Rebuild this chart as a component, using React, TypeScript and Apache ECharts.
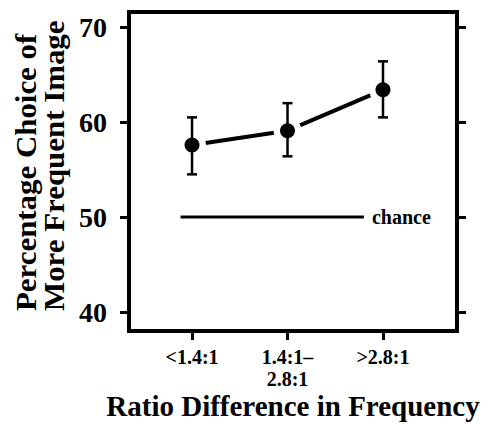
import React, { useEffect, useRef } from "react";
import * as echarts from "echarts";

const categories = ["<1.4:1", "1.4:1–\n2.8:1", ">2.8:1"];
const categoryX = [1, 2, 3];
const meanValues = [57.6, 59.1, 63.4];
const upperValues = [60.5, 62.0, 66.4];
const lowerValues = [54.5, 56.4, 60.5];
const yTicks = [40, 50, 60, 70];
const chanceX = [0.88, 2.8];
const chanceLevel = 50;
const yTitleLines = ["Percentage Choice of", "More Frequent Image"];
const xTitle = "Ratio Difference in Frequency";

const FONT = "Liberation Serif";

export default function App() {
  const ref = useRef<HTMLDivElement>(null);
  useEffect(() => {
    if (!ref.current) return;
    const chart = echarts.init(ref.current, undefined, { renderer: "svg" });
    const pts = categoryX.map((x, i) => [x, meanValues[i]]);
    const errData = categoryX.map((x, i) => [x, lowerValues[i], upperValues[i]]);
    const titleStyle = {
      fontFamily: FONT,
      fontWeight: "bold",
      fill: "#000",
    };
    chart.setOption({
      animation: false,
      backgroundColor: "#fff",
      grid: {
        left: 129,
        right: 32,
        top: 12,
        bottom: 97,
        show: true,
        borderColor: "#000",
        borderWidth: 4,
      },
      graphic: [
        {
          type: "text",
          x: 26,
          y: 311,
          rotation: Math.PI / 2,
          scaleX: 1.03,
          style: {
            ...titleStyle,
            text: yTitleLines[0],
            fontSize: 30,
            align: "left",
            verticalAlign: "middle",
          },
        },
        {
          type: "text",
          x: 54,
          y: 311,
          rotation: Math.PI / 2,
          scaleX: 1.03,
          style: {
            ...titleStyle,
            text: yTitleLines[1],
            fontSize: 30,
            align: "left",
            verticalAlign: "middle",
          },
        },
        {
          type: "text",
          x: 293,
          y: 406,
          style: {
            ...titleStyle,
            text: xTitle,
            fontSize: 29,
            align: "center",
            verticalAlign: "middle",
          },
        },
      ],
      xAxis: {
        type: "value",
        min: 0.34,
        max: 3.775,
        axisLine: { show: false },
        splitLine: { show: false },
        axisTick: {
          show: true,
          customValues: categoryX,
          length: 9,
          lineStyle: { color: "#000", width: 3 },
        },
        axisLabel: {
          customValues: categoryX,
          formatter: (v: number) => categories[categoryX.indexOf(Math.round(v))] ?? "",
          fontFamily: FONT,
          fontWeight: "bold",
          fontSize: 20,
          lineHeight: 22,
          color: "#000",
          margin: 15,
        },
      },
      yAxis: [
        {
          type: "value",
          min: 38,
          max: 71.6,
          position: "left",
          axisLine: { show: false },
          splitLine: { show: false },
          axisTick: {
            show: true,
            customValues: yTicks,
            length: 9,
            lineStyle: { color: "#000", width: 3 },
          },
          axisLabel: {
            customValues: yTicks,
            fontFamily: FONT,
            fontWeight: "bold",
            fontSize: 28,
            color: "#000",
            margin: 22,
          },
        },
        {
          type: "value",
          min: 38,
          max: 71.6,
          position: "right",
          axisLine: { show: false },
          splitLine: { show: false },
          axisTick: {
            show: true,
            customValues: yTicks,
            length: 9,
            lineStyle: { color: "#000", width: 3 },
          },
          axisLabel: { show: false },
        },
      ],
      series: [
        {
          type: "line",
          data: chanceX.map((x) => [x, chanceLevel]),
          symbol: "none",
          lineStyle: { color: "#000", width: 3 },
          endLabel: {
            show: true,
            formatter: "chance",
            fontFamily: FONT,
            fontWeight: "bold",
            fontSize: 20,
            color: "#000",
            distance: 8,
          },
          silent: true,
        },
        {
          type: "line",
          data: pts,
          symbol: "none",
          lineStyle: { color: "#000", width: 4 },
          z: 1,
        },
        {
          type: "scatter",
          data: pts,
          symbol: "circle",
          symbolSize: 28,
          itemStyle: { color: "#fff", opacity: 1 },
          z: 2,
        },
        {
          type: "custom",
          data: errData,
          z: 3,
          renderItem: (params: any, api: any) => {
            const x = api.value(0);
            const lo = api.coord([x, api.value(1)]);
            const hi = api.coord([x, api.value(2)]);
            const w = 5;
            const style = { stroke: "#000", lineWidth: 2.5 };
            return {
              type: "group",
              children: [
                { type: "line", shape: { x1: lo[0], y1: lo[1], x2: hi[0], y2: hi[1] }, style },
                { type: "line", shape: { x1: lo[0] - w, y1: lo[1], x2: lo[0] + w, y2: lo[1] }, style },
                { type: "line", shape: { x1: hi[0] - w, y1: hi[1], x2: hi[0] + w, y2: hi[1] }, style },
              ],
            };
          },
        },
        {
          type: "scatter",
          data: pts,
          symbol: "circle",
          symbolSize: 15,
          itemStyle: { color: "#000", opacity: 1 },
          z: 4,
        },
      ],
    });
    return () => chart.dispose();
  }, []);
  return (
    <div
      ref={ref}
      style={{ position: "fixed", left: 0, top: 0, width: 489, height: 428 }}
    />
  );
}
